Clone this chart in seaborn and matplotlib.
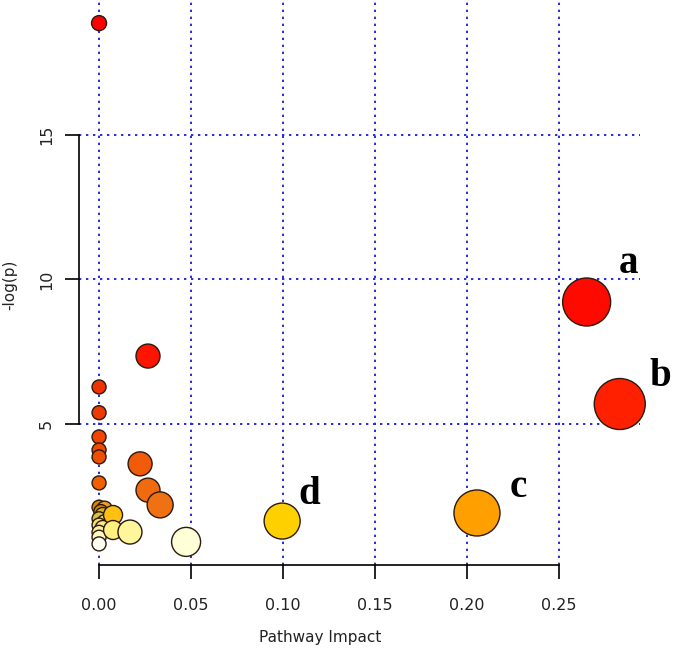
import pandas as pd
import seaborn as sns
import matplotlib
matplotlib.use("Agg")
import matplotlib.pyplot as plt

# ---------------- DATA ----------------
impact = [0.0, 0.0266, 0.265, 0.283,
          0.0, 0.0, 0.0, 0.0, 0.0, 0.0,
          0.0223, 0.0266, 0.0332,
          0.2054, 0.0995,
          0.0, 0.003, 0.001, 0.002, 0.0, 0.003, 0.0, 0.002, 0.0, 0.0,
          0.0076, 0.0076, 0.0168, 0.0473, 0.0]
logp = [18.87, 7.35, 9.22, 5.69,
        6.28, 5.39, 4.55, 4.10, 3.86, 2.96,
        3.62, 2.71, 2.20,
        1.92, 1.64,
        2.12, 2.07, 1.97, 1.85, 1.72, 1.60, 1.50, 1.40, 1.25, 1.08,
        1.85, 1.33, 1.26, 0.92, 0.85]
colors = ["#FF0000", "#FF1400", "#FF0A00", "#FF2000",
          "#EE3300", "#EE3A00", "#F04400", "#F04A00", "#EE4E00", "#F06000",
          "#F05A08", "#F06A10", "#F07014",
          "#FFA000", "#FFD000",
          "#E08000", "#F0A020", "#C89000", "#E0B020", "#D8C040", "#F0D860",
          "#F8E070", "#FFE880", "#FFF0A0", "#FFF8C0",
          "#FFC010", "#FFF080", "#FFF59A", "#FFFFD8", "#FFFFF4"]
# bubble diameters in pixels
bubble_px = [15, 24, 48, 51,
             14, 14, 14, 14, 14, 14,
             24, 24, 26,
             46, 36,
             14, 15, 14, 15, 14, 15, 14, 15, 14, 14,
             19, 19, 24, 29, 14]
labels = ["a", "b", "c", "d"]
label_pos = [(0.2875, 10.55), (0.305, 6.65), (0.228, 2.8), (0.1145, 2.55)]

x_ticks = [0.00, 0.05, 0.10, 0.15, 0.20, 0.25]
y_ticks = [5, 10, 15]

# ---------------- PLOT ----------------
pid = [f"p{i}" for i in range(len(impact))]
df = pd.DataFrame({"impact": impact, "logp": logp, "pid": pid})

sns.set_style("white")
fig = plt.figure(figsize=(6.75, 6.53), dpi=100)
ax = fig.add_axes([79 / 675, 1 - 565 / 653, (640 - 79) / 675, 565 / 653])

sns.scatterplot(data=df, x="impact", y="logp", hue="pid",
                palette=dict(zip(pid, colors)), size="pid",
                sizes=dict(zip(pid, [(d * 0.72) ** 2 for d in bubble_px])),
                edgecolor="#2a1a10", linewidth=1.0, legend=False, ax=ax,
                zorder=3, clip_on=False)

ax.set_xlim(-0.0109, 0.294)
ax.set_ylim(0.12, 19.67)
ax.set_xticks(x_ticks)
ax.set_xticklabels([f"{v:.2f}" for v in x_ticks], fontsize=11.5)
ax.set_yticks(y_ticks)
ax.set_yticklabels([str(v) for v in y_ticks], fontsize=11.5, rotation=90,
                   va="center")

ax.grid(True, color="#2a2ae0", linestyle=(0, (1.2, 2.4)), linewidth=1.4)
ax.set_axisbelow(True)

for s in ["top", "right"]:
    ax.spines[s].set_visible(False)
ax.spines["left"].set_bounds(5, 15)
ax.spines["bottom"].set_bounds(0, 0.25)
for s in ["left", "bottom"]:
    ax.spines[s].set_color("black")
    ax.spines[s].set_linewidth(1.2)
ax.tick_params(axis="both", direction="out", length=10, width=1.2,
               colors="black", labelcolor="#222222",
               left=True, bottom=True)
ax.tick_params(axis="x", pad=14)
ax.tick_params(axis="y", pad=8)

ax.set_xlabel("Pathway Impact", fontsize=11, color="#222222")
ax.set_ylabel("-log(p)", fontsize=11, color="#222222")
ax.xaxis.set_label_coords(0.43, -0.115)
ax.yaxis.set_label_coords(-0.11, 0.496)

for lab, (lx, ly) in zip(labels, label_pos):
    ax.text(lx, ly, lab, fontsize=28, fontweight="bold", color="black",
            family="Liberation Serif", ha="center", va="center",
            zorder=4, clip_on=False)

fig.savefig("out.png", dpi=100)
